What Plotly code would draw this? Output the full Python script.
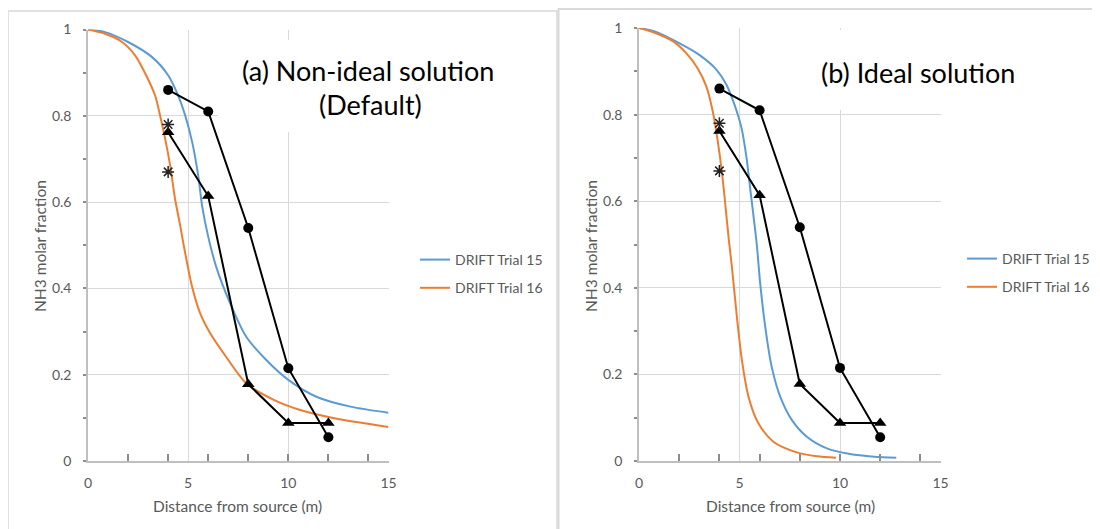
import plotly.graph_objects as go

# ---------------- data ----------------
exp_distance = [4, 6, 8, 10, 12]
exp_circles = [0.86, 0.81, 0.54, 0.215, 0.055]
exp_triangles = [0.762, 0.614, 0.178, 0.088, 0.088]
exp_star_x = [4, 4]
exp_star_y = [0.78, 0.67]

# (a) Non-ideal solution (Default)
blue_a_x = [0, 0.85, 2.0, 3.2, 4.0, 4.5, 4.85, 5.2, 5.5, 5.7, 6.0, 6.4, 7.1, 7.9, 8.9, 10, 11.4, 13.1, 15]
blue_a_y = [1, 0.994, 0.971, 0.936, 0.894, 0.847, 0.801, 0.739, 0.662, 0.59, 0.52, 0.45, 0.365, 0.288, 0.234, 0.188, 0.149, 0.126, 0.112]
orange_a_x = [0, 0.85, 1.7, 2.35, 2.9, 3.35, 3.6, 3.85, 4.1, 4.35, 4.6, 4.77, 5.2, 5.6, 6.1, 6.9, 7.9, 9.3, 10.6, 12.3, 15]
orange_a_y = [1, 0.99, 0.971, 0.94, 0.894, 0.847, 0.80, 0.747, 0.685, 0.606, 0.546, 0.502, 0.403, 0.342, 0.296, 0.241, 0.18, 0.141, 0.118, 0.099, 0.079]

# (b) Ideal solution
blue_b_x = [0, 0.85, 2.0, 3.0, 3.85, 4.35, 4.75, 5.1, 5.35, 5.55, 5.75, 5.86, 6.03, 6.28, 6.6, 7.03, 7.6, 8.35, 9.35, 10.5, 11.7, 12.8]
blue_b_y = [1, 0.991, 0.965, 0.938, 0.904, 0.869, 0.823, 0.769, 0.70, 0.622, 0.545, 0.50, 0.41, 0.31, 0.218, 0.148, 0.095, 0.056, 0.029, 0.016, 0.01, 0.0075]
orange_b_x = [0, 0.85, 1.7, 2.35, 2.9, 3.35, 3.67, 3.92, 4.14, 4.3, 4.47, 4.62, 4.87, 5.12, 5.45, 5.94, 6.7, 7.85, 8.85, 9.8]
orange_b_y = [1, 0.988, 0.969, 0.942, 0.908, 0.865, 0.807, 0.738, 0.661, 0.59, 0.51, 0.449, 0.333, 0.233, 0.148, 0.087, 0.044, 0.02, 0.011, 0.0075]

series_names = ["DRIFT Trial 15", "DRIFT Trial 16"]
x_tick_vals = [0, 5, 10, 15]
x_minor_tick_vals = [2, 4, 6, 8, 10, 12, 14]
panel_titles = [["(a) Non-ideal solution", "(Default)"], ["(b) Ideal solution"]]
x_title = "Distance from source (m)"
y_title = "NH3 molar fraction"

# ---------------- style ----------------
W, H = 1100, 529
OFF = 8  # page body margin offset in the browser
BLUE = "#5B9BD5"
ORANGE = "#ED7D31"
TXT = "#595959"
GRID = "#D9D9D9"
AXL = "#BFBFBF"
TICKC = "#8C8C8C"
FONT = "Lato"

def px(xp):
    return (xp - OFF) / W

def py(yp):
    return 1 - (yp - OFF) / H

fig = go.Figure()

def add_panel(idx, bx, by, ox, oy, legend_name):
    xa = "x" if idx == 1 else "x2"
    ya = "y" if idx == 1 else "y2"
    fig.add_trace(go.Scatter(x=bx, y=by, mode="lines", name=series_names[0],
                             line=dict(color=BLUE, width=2, shape="spline", smoothing=0.8),
                             xaxis=xa, yaxis=ya, legend=legend_name, legendgroup=f"b{idx}"))
    fig.add_trace(go.Scatter(x=ox, y=oy, mode="lines", name=series_names[1],
                             line=dict(color=ORANGE, width=2, shape="spline", smoothing=0.8),
                             xaxis=xa, yaxis=ya, legend=legend_name, legendgroup=f"o{idx}"))
    fig.add_trace(go.Scatter(x=exp_distance, y=exp_circles, mode="lines+markers",
                             line=dict(color="black", width=2),
                             marker=dict(symbol="circle", size=10, color="black"),
                             xaxis=xa, yaxis=ya, showlegend=False))
    fig.add_trace(go.Scatter(x=exp_distance, y=exp_triangles, mode="lines+markers",
                             line=dict(color="black", width=2),
                             marker=dict(symbol="triangle-up", size=11, color="black"),
                             xaxis=xa, yaxis=ya, showlegend=False))
    fig.add_trace(go.Scatter(x=exp_star_x, y=exp_star_y, mode="markers",
                             marker=dict(symbol="asterisk-open", size=10, color="#222222",
                                         line=dict(color="#222222", width=1.5)),
                             xaxis=xa, yaxis=ya, showlegend=False))

add_panel(1, blue_a_x, blue_a_y, orange_a_x, orange_a_y, "legend")
add_panel(2, blue_b_x, blue_b_y, orange_b_x, orange_b_y, "legend2")

def xaxis_cfg(domain, anchor):
    return dict(domain=domain, anchor=anchor, range=[0, 15], tickmode="array",
                tickvals=x_tick_vals, ticks="", showgrid=True, gridcolor=GRID, gridwidth=1,
                showline=True, linecolor=AXL, linewidth=1.5, zeroline=False, automargin=False,
                tickfont=dict(family=FONT, size=14, color=TXT), ticklabelstandoff=8,
                minor=dict(tickmode="array", tickvals=x_minor_tick_vals, ticks="inside",
                           ticklen=7, tickwidth=1.5, tickcolor=TICKC, showgrid=False))

def yaxis_cfg(domain, anchor):
    return dict(domain=domain, anchor=anchor, range=[0, 1], dtick=0.2, tick0=0,
                ticks="outside", ticklen=3, tickwidth=1.5, tickcolor=TICKC,
                showgrid=True, gridcolor=GRID, gridwidth=1, automargin=False,
                showline=True, linecolor=AXL, linewidth=1.5, zeroline=False,
                tickfont=dict(family=FONT, size=14, color=TXT), ticklabelstandoff=9,
                minor=dict(dtick=0.1, tick0=0, ticks="outside", ticklen=3, tickwidth=1.5,
                           tickcolor=TICKC, showgrid=False))

legend_common = dict(xanchor="left", yanchor="top", xref="container", yref="container",
                     font=dict(family=FONT, size=14, color=TXT), bgcolor="rgba(0,0,0,0)",
                     tracegroupgap=7)

fig.update_layout(
    template="none",
    width=W, height=H, margin=dict(l=0, r=0, t=0, b=0, autoexpand=False),
    paper_bgcolor="white", plot_bgcolor="white",
    xaxis=xaxis_cfg([px(88), px(388.5)], "y"),
    yaxis=yaxis_cfg([py(461), py(29.5)], "x"),
    xaxis2=xaxis_cfg([px(639), px(940.5)], "y2"),
    yaxis2=yaxis_cfg([py(461), py(28)], "x2"),
    legend=dict(x=px(415), y=py(244), **legend_common),
    legend2=dict(x=px(962), y=py(243), **legend_common),
    showlegend=True,
)

shapes = [
    # panel borders
    dict(type="rect", xref="paper", yref="paper", x0=px(8), x1=px(557), y0=-0.02, y1=py(11),
         line=dict(color=GRID, width=1.5), fillcolor="rgba(0,0,0,0)", layer="above"),
    dict(type="rect", xref="paper", yref="paper", x0=px(558.5), x1=1.02, y0=-0.02, y1=py(9),
         line=dict(color=GRID, width=2), fillcolor="rgba(0,0,0,0)", layer="above"),
    # white text boxes behind titles
    dict(type="rect", xref="paper", yref="paper", x0=px(218), x1=px(530), y0=py(132), y1=py(40),
         line=dict(width=0), fillcolor="white", layer="above"),
    dict(type="rect", xref="paper", yref="paper", x0=px(805), x1=px(938), y0=py(110), y1=py(30),
         line=dict(width=0), fillcolor="white", layer="above"),
    dict(type="rect", xref="paper", yref="paper", x0=px(938), x1=px(1035), y0=py(110), y1=py(44),
         line=dict(width=0), fillcolor="white", layer="above"),
]
fig.update_layout(shapes=shapes)

ann = []
ann.append(dict(text=panel_titles[0][0], x=px(368), y=py(70), xref="paper", yref="paper",
                showarrow=False, xanchor="center", yanchor="middle",
                font=dict(family=FONT, size=27, color="black")))
ann.append(dict(text=panel_titles[0][1], x=px(370), y=py(105), xref="paper", yref="paper",
                showarrow=False, xanchor="center", yanchor="middle",
                font=dict(family=FONT, size=27, color="black")))
ann.append(dict(text=panel_titles[1][0], x=px(918), y=py(72), xref="paper", yref="paper",
                showarrow=False, xanchor="center", yanchor="middle",
                font=dict(family=FONT, size=27, color="black")))
for cx, ycx in [(238, 40), (790, 591)]:
    ann.append(dict(text=x_title, x=px(cx), y=py(506), xref="paper", yref="paper",
                    showarrow=False, xanchor="center", yanchor="middle",
                    font=dict(family=FONT, size=15.5, color=TXT)))
    ann.append(dict(text=y_title, x=px(ycx), y=py(246), xref="paper", yref="paper",
                    showarrow=False, xanchor="center", yanchor="middle", textangle=-90,
                    font=dict(family=FONT, size=15.5, color=TXT)))
fig.update_layout(annotations=ann)

fig.write_html("out.html")
